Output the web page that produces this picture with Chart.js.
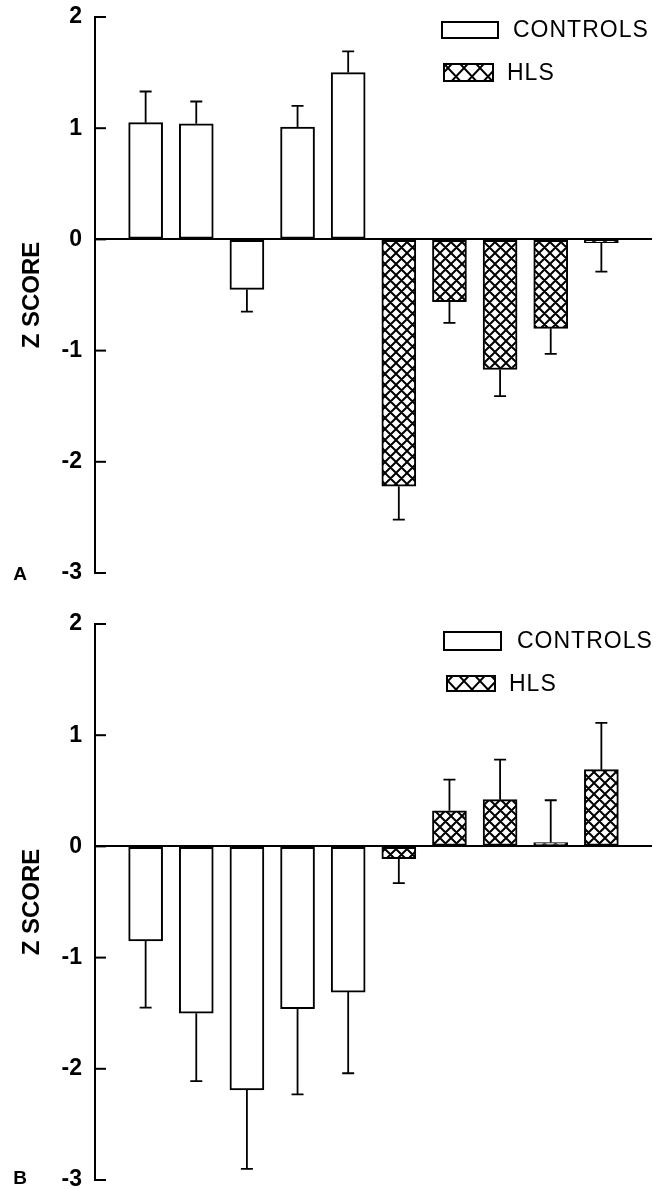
<!DOCTYPE html>
<html>
<head>
<meta charset="utf-8">
<script src="https://cdn.jsdelivr.net/npm/chart.js@4.4.1/dist/chart.umd.min.js"></script>
<style>
html, body { margin: 0; padding: 0; background: #fff; overflow: hidden; }
.panel { position: absolute; left: 0; width: 665px; }
#wrapA { top: 0; height: 592px; }
#wrapB { top: 596px; height: 600px; }
</style>
</head>
<body>
<div class="panel" id="wrapA"><canvas id="chartA"></canvas></div>
<div class="panel" id="wrapB"><canvas id="chartB"></canvas></div>
<script>
// bar positions on the x axis
const controlPos = [1, 2, 3, 4, 5];
const hlsPos = [6, 7, 8, 9, 10];
const yTicks = [-3, -2, -1, 0, 1, 2];

// panel A
const controlsA = [1.05, 1.04, -0.45, 1.01, 1.50];
const controlsErrA = [0.28, 0.20, 0.20, 0.19, 0.19];
const hlsA = [-2.22, -0.56, -1.17, -0.80, -0.03];
const hlsErrA = [0.30, 0.19, 0.24, 0.23, 0.26];

// panel B
const controlsB = [-0.85, -1.50, -2.19, -1.46, -1.31];
const controlsErrB = [0.60, 0.61, 0.71, 0.77, 0.73];
const hlsB = [-0.11, 0.32, 0.42, 0.035, 0.69];
const hlsErrB = [0.22, 0.28, 0.36, 0.38, 0.42];

const FONT = 'Liberation Sans, Arial, Helvetica, sans-serif';

function makeHatch(w, h, lw) {
    const c = document.createElement('canvas');
    c.width = w; c.height = h;
    const g = c.getContext('2d');
    g.fillStyle = '#fff';
    g.fillRect(0, 0, w, h);
    g.strokeStyle = '#000';
    g.lineWidth = lw;
    g.beginPath();
    for (let k = -1; k <= 1; k++) {
        g.moveTo(k * w, 0); g.lineTo(k * w + w, h);
        g.moveTo(k * w + w, 0); g.lineTo(k * w, h);
    }
    g.stroke();
    return g.createPattern(c, 'repeat');
}

const hatch = makeHatch(11, 11, 2);
const legendHatch = makeHatch(16, 17, 2);

// inward ticks, error bars, legend and panel letter
const decor = {
    id: 'panelDecor',
    afterDatasetsDraw(chart, args, o) {
        const ctx = chart.ctx;
        const y = chart.scales.y;
        const area = chart.chartArea;
        ctx.save();
        ctx.strokeStyle = '#000';
        ctx.lineWidth = 2;
        y.ticks.forEach(t => {
            const py = y.getPixelForValue(t.value);
            ctx.beginPath();
            ctx.moveTo(area.left, py);
            ctx.lineTo(area.left + 11, py);
            ctx.stroke();
        });

        ctx.lineWidth = 1.8;
        chart.data.datasets.forEach((ds, di) => {
            chart.getDatasetMeta(di).data.forEach((bar, i) => {
                const v = ds.data[i].y;
                const e = ds.err[i];
                const end = v < 0 ? v - e : v + e;
                const y0 = y.getPixelForValue(v);
                const y1 = y.getPixelForValue(end);
                ctx.beginPath();
                ctx.moveTo(bar.x, y0);
                ctx.lineTo(bar.x, y1);
                ctx.moveTo(bar.x - 6, y1);
                ctx.lineTo(bar.x + 6, y1);
                ctx.stroke();
            });
        });

        // legend
        ctx.lineWidth = 2;
        ctx.textBaseline = 'middle';
        ctx.textAlign = 'left';
        ctx.font = '23px ' + FONT;
        ctx.letterSpacing = '1px';
        o.legend.forEach((l, i) => {
            const ds = chart.data.datasets[i];
            ctx.fillStyle = i === 0 ? '#fff' : legendHatch;
            ctx.fillRect(l.x, l.y, l.w, l.h);
            ctx.strokeRect(l.x, l.y, l.w, l.h);
            ctx.fillStyle = '#000';
            ctx.fillText(ds.label, l.tx, l.y + l.h / 2 + 1);
        });
        ctx.letterSpacing = '0px';

        ctx.font = 'bold 19px ' + FONT;
        ctx.textAlign = 'center';
        ctx.fillText(o.letter, 20, o.letterY);
        ctx.restore();
    }
};

function makeChart(id, controls, controlsErr, hls, hlsErr, pad, decorOpts) {
    const ctx = document.getElementById(id).getContext('2d');
    return new Chart(ctx, {
        type: 'bar',
        data: {
            datasets: [{
                label: 'CONTROLS',
                data: controlPos.map((x, i) => ({ x: x, y: controls[i] })),
                err: controlsErr,
                backgroundColor: '#fff',
                borderColor: '#000',
                borderWidth: 2,
                borderSkipped: false,
                barThickness: 34,
                grouped: false
            }, {
                label: 'HLS',
                data: hlsPos.map((x, i) => ({ x: x, y: hls[i] })),
                err: hlsErr,
                backgroundColor: hatch,
                borderColor: '#000',
                borderWidth: 2,
                borderSkipped: false,
                barThickness: 34,
                grouped: false
            }]
        },
        options: {
            responsive: true,
            maintainAspectRatio: false,
            animation: false,
            layout: { padding: { top: pad.top, bottom: pad.bottom, left: 0, right: 13 } },
            plugins: {
                legend: { display: false },
                tooltip: { enabled: false },
                panelDecor: decorOpts
            },
            scales: {
                x: { type: 'linear', min: 0, max: 11, offset: false, display: false },
                y: {
                    min: -3,
                    max: 2,
                    afterBuildTicks: s => { s.ticks = yTicks.map(v => ({ value: v })); },
                    afterFit: s => { s.width = 95; },
                    ticks: {
                        color: '#000',
                        padding: 13,
                        font: { family: FONT, size: 23, weight: 'bold', lineHeight: 0.2 }
                    },
                    grid: {
                        drawTicks: false,
                        lineWidth: 2,
                        color: c => (c.tick && c.tick.value === 0) ? '#000' : 'rgba(0,0,0,0)'
                    },
                    border: { color: '#000', width: 2 },
                    title: {
                        display: true,
                        text: 'Z SCORE',
                        color: '#000',
                        font: { family: FONT, size: 24, weight: 'bold' },
                        padding: { top: 18, bottom: 0 }
                    }
                }
            }
        },
        plugins: [decor]
    });
}

const chartA = makeChart('chartA', controlsA, controlsErrA, hlsA, hlsErrA,
    { top: 17, bottom: 19 },
    {
        letter: 'A', letterY: 575,
        legend: [
            { x: 442, y: 22, w: 56, h: 16, tx: 513 },
            { x: 444, y: 64, w: 49, h: 17, tx: 507 }
        ]
    });

const chartB = makeChart('chartB', controlsB, controlsErrB, hlsB, hlsErrB,
    { top: 28, bottom: 16 },
    {
        letter: 'B', letterY: 583,
        legend: [
            { x: 444, y: 36, w: 57, h: 18, tx: 517 },
            { x: 447, y: 80, w: 48, h: 15, tx: 509 }
        ]
    });
</script>
</body>
</html>
